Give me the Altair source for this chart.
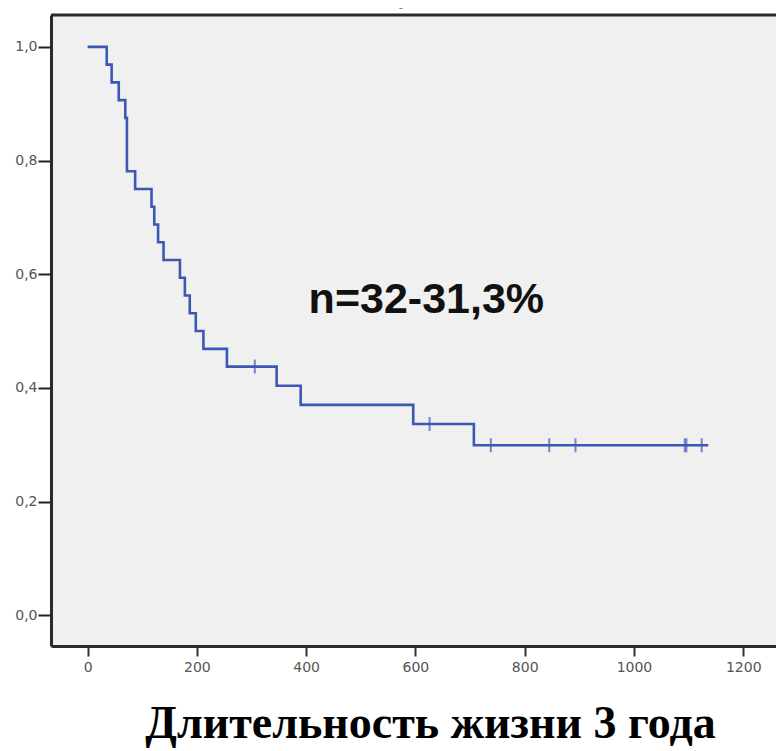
import altair as alt
import pandas as pd

# Kaplan-Meier step curve (time in days, cumulative survival)
times = [0, 35, 44, 57, 69, 72, 87, 117, 122, 129, 139, 169, 178, 187, 198, 212,
         255, 346, 390, 596, 707, 1136]
surv = [1.0, 0.96875, 0.9375, 0.90625, 0.875, 0.78125, 0.75, 0.71875, 0.6875,
        0.65625, 0.625, 0.59375, 0.5625, 0.53125, 0.5, 0.46875, 0.4375, 0.4038,
        0.3702, 0.3365, 0.2991, 0.2991]

# censored observations
cens_times = [306, 626, 738, 845, 893, 1093, 1096, 1124]
cens_surv = [0.4375, 0.3365, 0.2991, 0.2991, 0.2991, 0.2991, 0.2991, 0.2991]

x_ticks = [0, 200, 400, 600, 800, 1000, 1200]
y_ticks = [0.0, 0.2, 0.4, 0.6, 0.8, 1.0]

annotation = "n=32-31,3%"
annot_x = [620]
annot_y = [0.532]
title_text = "Длительность жизни 3 года"

curve_df = pd.DataFrame({"t": times, "s": surv})
cens_df = pd.DataFrame({"t": cens_times, "s": cens_surv})
annot_df = pd.DataFrame({"t": annot_x, "s": annot_y, "label": [annotation]})

blue = "#3d58b3"
frame = "#2a2a2a"

xscale = alt.Scale(domain=[-67, 1260], nice=False, zero=False)
yscale = alt.Scale(domain=[-0.054, 1.056], nice=False, zero=False)

xaxis = alt.Axis(values=x_ticks, title=None, grid=False, format="d",
                 domain=True, domainColor=frame, domainWidth=3,
                 tickSize=10, tickWidth=2, tickColor="#333",
                 labelFont="DejaVu Sans", labelFontSize=14, labelColor="#555",
                 labelPadding=4)
yaxis = alt.Axis(values=y_ticks, title=None, grid=False,
                 domain=True, domainColor=frame, domainWidth=3,
                 tickSize=13, tickWidth=2, tickColor="#222",
                 labelFont="DejaVu Sans", labelFontSize=14, labelColor="#555",
                 labelPadding=1,
                 labelExpr="replace(format(datum.value, '.1f'), '.', ',')")

line = alt.Chart(curve_df).mark_line(
    interpolate="step-after", color=blue, strokeWidth=2.6
).encode(
    x=alt.X("t:Q", scale=xscale, axis=xaxis),
    y=alt.Y("s:Q", scale=yscale, axis=yaxis),
)

ticks = alt.Chart(cens_df).mark_tick(
    orient="vertical", color=blue, size=14, thickness=2
).encode(
    x=alt.X("t:Q", scale=xscale),
    y=alt.Y("s:Q", scale=yscale),
)

annot = alt.Chart(annot_df).mark_text(
    font="Liberation Sans", fontWeight="bold", fontSize=43,
    color="#111", align="center", baseline="alphabetic"
).encode(
    x=alt.X("t:Q", scale=xscale),
    y=alt.Y("s:Q", scale=yscale),
    text="label:N",
)

# top border of the plot frame (the right side is cut off in the original)
top_border = alt.Chart(pd.DataFrame({"k": [0]})).mark_rule(
    color=frame, strokeWidth=3
).encode(x=alt.value(0), x2=alt.value(725), y=alt.value(0))

dash = alt.Chart(pd.DataFrame({"label": ["-"]})).mark_text(
    fontSize=12, color="#888", font="DejaVu Sans", align="center"
).encode(x=alt.value(350), y=alt.value(-7), text="label:N")

chart = alt.layer(line, ticks, annot, top_border, dash).properties(
    width=725,
    height=631,
    autosize=alt.AutoSizeParams(type="none"),
    padding={"left": 51, "top": 15, "right": 0, "bottom": 105},
    background="white",
    title=alt.TitleParams(
        text=title_text, orient="bottom", anchor="middle",
        font="Liberation Serif", fontWeight="bold", fontSize=46,
        color="#000", dx=17, offset=28,
    ),
).configure_view(
    fill="#f0f0f0", stroke=None
)

chart.save("out.html", embed_options={"renderer": "svg", "actions": False})
